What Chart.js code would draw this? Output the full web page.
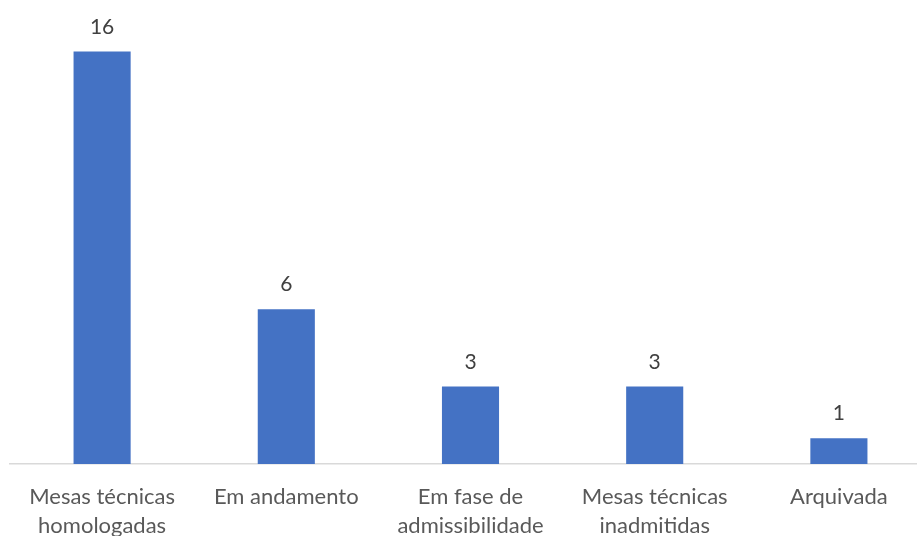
<!DOCTYPE html>
<html>
<head>
<meta charset="utf-8">
<script src="https://cdn.jsdelivr.net/npm/chart.js@4/dist/chart.umd.min.js"></script>
<style>
  html, body { margin: 0; padding: 0; background: #fff; overflow: hidden; }
  #wrap { width: 932px; height: 559px; position: relative; }
</style>
</head>
<body>
<div id="wrap"><canvas id="myChart"></canvas></div>
<script>
'use strict';
// ******* Data *******
let categories = [
  ['Mesas técnicas', 'homologadas'],
  'Em andamento',
  ['Em fase de', 'admissibilidade'],
  ['Mesas técnicas', 'inadmitidas'],
  'Arquivada'
];
let counts = [16, 6, 3, 3, 1];

// ****** Value labels above the bars ******
let valueLabels = {
  id: 'valueLabels',
  afterDatasetsDraw(chart) {
    let ctx = chart.ctx;
    let meta = chart.getDatasetMeta(0);
    ctx.save();
    ctx.font = '21px Lato';
    ctx.fillStyle = '#404040';
    ctx.textAlign = 'center';
    ctx.textBaseline = 'alphabetic';
    meta.data.forEach(function (bar, i) {
      ctx.fillText(String(counts[i]), bar.x, bar.y - 18);
    });
    ctx.restore();
  }
};

let ctx = document.getElementById('myChart');

new Chart(ctx, {
  type: 'bar',
  data: {
    labels: categories,
    datasets: [{
      data: counts,
      backgroundColor: '#4472C4',
      borderWidth: 0,
      barPercentage: 1,
      categoryPercentage: 0.31
    }]
  },
  options: {
    responsive: true,
    maintainAspectRatio: false,
    animation: false,
    layout: { padding: { left: 10, right: 1, top: 0, bottom: 0 } },
    plugins: {
      legend: { display: false },
      tooltip: { enabled: false }
    },
    scales: {
      y: {
        display: false,
        min: 0,
        max: 18
      },
      x: {
        grid: { display: false, drawTicks: false },
        border: { display: true, color: '#d9d9d9', width: 1.5 },
        ticks: {
          color: '#595959',
          font: { family: 'Lato', size: 22, lineHeight: 1.32 },
          padding: 18.5,
          maxRotation: 0,
          autoSkip: false
        }
      }
    }
  },
  plugins: [valueLabels]
});
</script>
</body>
</html>
